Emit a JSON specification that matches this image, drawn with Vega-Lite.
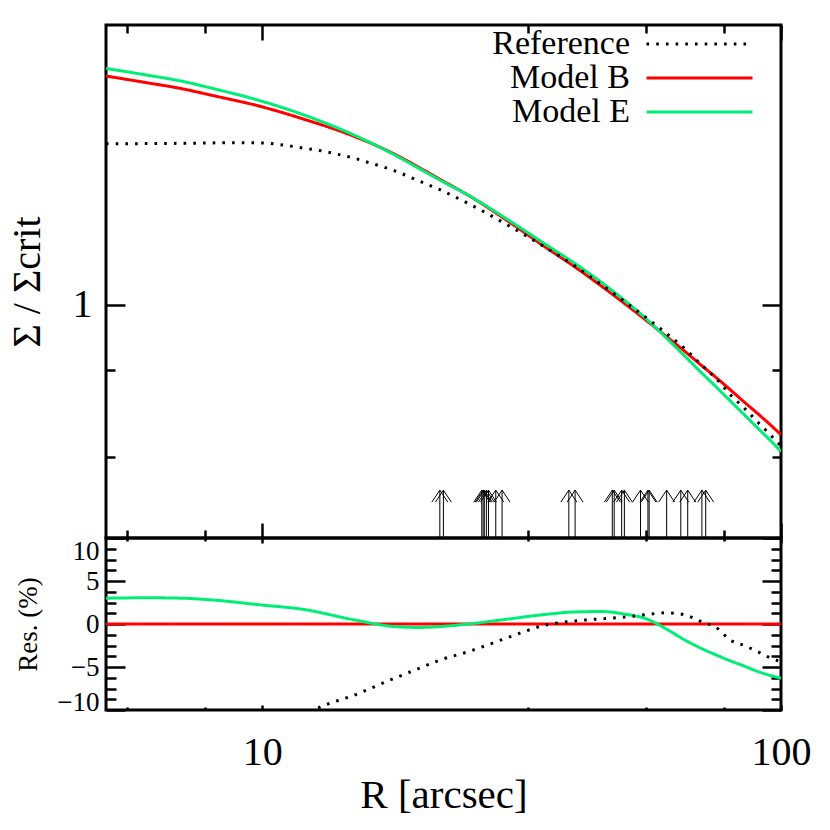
{
  "$schema": "https://vega.github.io/schema/vega-lite/v6.json",
  "background": "white",
  "padding": {"left": 5, "top": 22, "right": 5, "bottom": 5},
  "autosize": {"type": "pad"},
  "spacing": 0,
  "bounds": "flush",
  "datasets": {
    "curves": [
      {"R":5,"series":"Model B","sigma":2.455,"res":0},
      {"R":6,"series":"Model B","sigma":2.391,"res":0},
      {"R":7,"series":"Model B","sigma":2.336,"res":0},
      {"R":8,"series":"Model B","sigma":2.276,"res":0},
      {"R":10,"series":"Model B","sigma":2.175,"res":0},
      {"R":12,"series":"Model B","sigma":2.074,"res":0},
      {"R":15,"series":"Model B","sigma":1.939,"res":0},
      {"R":18,"series":"Model B","sigma":1.806,"res":0},
      {"R":20,"series":"Model B","sigma":1.717,"res":0},
      {"R":22,"series":"Model B","sigma":1.637,"res":0},
      {"R":25,"series":"Model B","sigma":1.536,"res":0},
      {"R":30,"series":"Model B","sigma":1.382,"res":0},
      {"R":35,"series":"Model B","sigma":1.257,"res":0},
      {"R":40,"series":"Model B","sigma":1.161,"res":0},
      {"R":45,"series":"Model B","sigma":1.077,"res":0},
      {"R":50,"series":"Model B","sigma":1.004,"res":0},
      {"R":55,"series":"Model B","sigma":0.940,"res":0},
      {"R":60,"series":"Model B","sigma":0.884,"res":0},
      {"R":65,"series":"Model B","sigma":0.835,"res":0},
      {"R":70,"series":"Model B","sigma":0.790,"res":0},
      {"R":75,"series":"Model B","sigma":0.751,"res":0},
      {"R":80,"series":"Model B","sigma":0.715,"res":0},
      {"R":85,"series":"Model B","sigma":0.682,"res":0},
      {"R":90,"series":"Model B","sigma":0.653,"res":0},
      {"R":95,"series":"Model B","sigma":0.626,"res":0},
      {"R":100,"series":"Model B","sigma":0.600,"res":0},

      {"R":5,"series":"Model E","sigma":2.529,"res":3.0},
      {"R":6,"series":"Model E","sigma":2.464,"res":3.05},
      {"R":7,"series":"Model E","sigma":2.406,"res":3.0},
      {"R":8,"series":"Model E","sigma":2.340,"res":2.8},
      {"R":10,"series":"Model E","sigma":2.223,"res":2.2},
      {"R":12,"series":"Model E","sigma":2.109,"res":1.7},
      {"R":15,"series":"Model E","sigma":1.949,"res":0.5},
      {"R":18,"series":"Model E","sigma":1.801,"res":-0.3},
      {"R":20,"series":"Model E","sigma":1.710,"res":-0.4},
      {"R":22,"series":"Model E","sigma":1.632,"res":-0.3},
      {"R":25,"series":"Model E","sigma":1.536,"res":0.0},
      {"R":30,"series":"Model E","sigma":1.390,"res":0.6},
      {"R":35,"series":"Model E","sigma":1.271,"res":1.1},
      {"R":40,"series":"Model E","sigma":1.177,"res":1.4},
      {"R":45,"series":"Model E","sigma":1.093,"res":1.45},
      {"R":50,"series":"Model E","sigma":1.016,"res":1.15},
      {"R":55,"series":"Model E","sigma":0.946,"res":0.6},
      {"R":60,"series":"Model E","sigma":0.879,"res":-0.55},
      {"R":65,"series":"Model E","sigma":0.820,"res":-1.8},
      {"R":70,"series":"Model E","sigma":0.768,"res":-2.8},
      {"R":75,"series":"Model E","sigma":0.724,"res":-3.6},
      {"R":80,"series":"Model E","sigma":0.684,"res":-4.3},
      {"R":85,"series":"Model E","sigma":0.649,"res":-4.9},
      {"R":90,"series":"Model E","sigma":0.617,"res":-5.5},
      {"R":95,"series":"Model E","sigma":0.589,"res":-5.95},
      {"R":100,"series":"Model E","sigma":0.562,"res":-6.3},

      {"R":5,"series":"Reference","sigma":1.882,"res":-23.3},
      {"R":6,"series":"Reference","sigma":1.883,"res":-21.2},
      {"R":7,"series":"Reference","sigma":1.885,"res":-19.3},
      {"R":8,"series":"Reference","sigma":1.888,"res":-17.0},
      {"R":9,"series":"Reference","sigma":1.890,"res":-14.9},
      {"R":10,"series":"Reference","sigma":1.887,"res":-13.2},
      {"R":11,"series":"Reference","sigma":1.872,"res":-11.8},
      {"R":12,"series":"Reference","sigma":1.850,"res":-10.8},
      {"R":13,"series":"Reference","sigma":1.830,"res":-9.6},
      {"R":14,"series":"Reference","sigma":1.805,"res":-8.9},
      {"R":15,"series":"Reference","sigma":1.779,"res":-8.3},
      {"R":16,"series":"Reference","sigma":1.749,"res":-7.6},
      {"R":18,"series":"Reference","sigma":1.692,"res":-6.3},
      {"R":20,"series":"Reference","sigma":1.628,"res":-5.2},
      {"R":22,"series":"Reference","sigma":1.571,"res":-4.2},
      {"R":25,"series":"Reference","sigma":1.487,"res":-3.2},
      {"R":30,"series":"Reference","sigma":1.361,"res":-1.5},
      {"R":35,"series":"Reference","sigma":1.255,"res":-0.15},
      {"R":40,"series":"Reference","sigma":1.165,"res":0.35},
      {"R":45,"series":"Reference","sigma":1.083,"res":0.6},
      {"R":50,"series":"Reference","sigma":1.012,"res":0.8},
      {"R":55,"series":"Reference","sigma":0.950,"res":1.1},
      {"R":60,"series":"Reference","sigma":0.895,"res":1.3},
      {"R":65,"series":"Reference","sigma":0.844,"res":1.1},
      {"R":70,"series":"Reference","sigma":0.792,"res":0.3},
      {"R":75,"series":"Reference","sigma":0.748,"res":-0.4},
      {"R":80,"series":"Reference","sigma":0.701,"res":-1.9},
      {"R":85,"series":"Reference","sigma":0.666,"res":-2.5},
      {"R":90,"series":"Reference","sigma":0.632,"res":-3.2},
      {"R":95,"series":"Reference","sigma":0.602,"res":-3.9},
      {"R":100,"series":"Reference","sigma":0.574,"res":-4.4}
    ],
    "arrows": [
      {"R":22.0},{"R":22.35},{"R":26.5},{"R":26.66},{"R":26.8},{"R":27.05},{"R":27.3},{"R":28.2},{"R":29.0},
      {"R":39.0},{"R":40.1},{"R":47.3},{"R":47.7},{"R":49.3},{"R":49.9},{"R":53.6},{"R":55.4},{"R":55.7},
      {"R":60.2},{"R":64.1},{"R":66.1},{"R":70.4},{"R":71.6}
    ]
  },
  "resolve": {"scale": {"color": "independent", "strokeDash": "independent"}},
  "vconcat": [
    {
      "width": 675,
      "height": 513,
      "data": {"name": "curves"},
      "layer": [
        {
          "mark": {"type": "line", "interpolate": "monotone", "clip": true, "strokeWidth": 3},
          "encoding": {
            "x": {"field": "R", "type": "quantitative",
                  "scale": {"type": "log", "domain": [5, 100], "nice": false},
                  "axis": {"orient": "bottom", "values": [10, 100], "tickSize": -15, "labels": false, "title": null}},
            "y": {"field": "sigma", "type": "quantitative",
                  "scale": {"type": "log", "domain": [0.4, 3], "nice": false},
                  "axis": {"orient": "left", "values": [1], "tickSize": -19, "labelPadding": 33, "labelFontSize": 40, "format": "d",
                           "title": "Σ / Σcrit", "titleFontSize": 40, "titlePadding": 25}},
            "color": {"field": "series", "type": "nominal",
                      "scale": {"domain": ["Reference", "Model B", "Model E"], "range": ["#000000", "#ff0000", "#00ee76"]},
                      "legend": {"orient": "none", "legendX": 576.5, "legendY": 2, "title": null, "symbolType": "M-6.8,0L6.8,0",
                                 "symbolSize": 243, "symbolStrokeWidth": 3, "labelFont": "Liberation Serif", "labelFontSize": 34,
                                 "labelColor": "black", "labelAlign": "right", "labelOffset": -86.5,
                                 "rowPadding": -7, "padding": 0, "labelLimit": 0}},
            "strokeDash": {"field": "series", "type": "nominal",
                           "scale": {"domain": ["Reference", "Model B", "Model E"], "range": [[2.6, 7.1], [1, 0], [1, 0]]},
                           "legend": {"orient": "none", "legendX": 576.5, "legendY": 2, "title": null, "symbolType": "M-6.8,0L6.8,0",
                                      "symbolSize": 243, "symbolStrokeWidth": 3, "labelFont": "Liberation Serif", "labelFontSize": 34,
                                      "labelColor": "black", "labelAlign": "right", "labelOffset": -86.5,
                                      "rowPadding": -7, "padding": 0, "labelLimit": 0}}
          }
        },
        {
          "mark": {"type": "point", "opacity": 0},
          "encoding": {
            "x": {"field": "R", "type": "quantitative",
                  "axis": {"orient": "bottom", "values": [5.5, 7.75, 32.5, 55, 77.5], "tickSize": -8, "labels": false, "title": null}},
            "y": {"field": "sigma", "type": "quantitative",
                  "axis": {"orient": "left", "values": [0.55, 0.775], "tickSize": -9, "labels": false, "title": null}}
          }
        },
        {
          "mark": {"type": "point", "opacity": 0},
          "encoding": {
            "x": {"field": "R", "type": "quantitative",
                  "axis": {"orient": "top", "values": [10, 100], "tickSize": -15, "labels": false, "title": null}},
            "y": {"field": "sigma", "type": "quantitative",
                  "axis": {"orient": "right", "values": [1], "tickSize": -19, "labels": false, "title": null}}
          }
        },
        {
          "mark": {"type": "point", "opacity": 0},
          "encoding": {
            "x": {"field": "R", "type": "quantitative",
                  "axis": {"orient": "top", "values": [5.5, 7.75, 32.5, 55, 77.5], "tickSize": -8, "labels": false, "title": null}},
            "y": {"field": "sigma", "type": "quantitative",
                  "axis": {"orient": "right", "values": [0.55, 0.775], "tickSize": -9, "labels": false, "title": null}}
          }
        },
        {
          "data": {"name": "arrows"},
          "mark": {"type": "rule", "color": "black", "strokeWidth": 1},
          "encoding": {
            "x": {"field": "R", "type": "quantitative", "axis": null},
            "y": {"datum": 0.4, "type": "quantitative", "axis": null},
            "y2": {"datum": 0.4827}
          }
        },
        {
          "data": {"name": "arrows"},
          "mark": {"type": "point", "shape": "M-1,1.5L0,0L1,1.5", "filled": false, "size": 256, "color": "black", "strokeWidth": 1, "opacity": 1},
          "encoding": {
            "x": {"field": "R", "type": "quantitative", "axis": null},
            "y": {"datum": 0.4827, "type": "quantitative", "axis": null}
          }
        }
      ],
      "resolve": {"axis": {"x": "independent", "y": "independent"}}
    },
    {
      "width": 675,
      "height": 172,
      "data": {"name": "curves"},
      "layer": [
        {
          "mark": {"type": "line", "interpolate": "monotone", "clip": true, "strokeWidth": 3},
          "encoding": {
            "x": {"field": "R", "type": "quantitative",
                  "scale": {"type": "log", "domain": [5, 100], "nice": false},
                  "axis": {"orient": "bottom", "values": [10, 100], "tickSize": -5, "labelPadding": 27, "labelFontSize": 40, "format": "d",
                           "title": "R [arcsec]", "titleFontSize": 41, "titlePadding": 3}},
            "y": {"field": "res", "type": "quantitative",
                  "scale": {"type": "linear", "domain": [-10, 10], "nice": false, "zero": false},
                  "axis": {"orient": "left", "values": [-10, -5, 0, 5, 10], "tickSize": -19, "labelPadding": 26, "labelFontSize": 27,
                           "labelBaseline": {"condition": [{"test": "datum.value === 10", "value": "top"}, {"test": "datum.value === -10", "value": "alphabetic"}], "value": "middle"},
                           "title": "Res. (%)", "titleFontSize": 27, "titlePadding": 14}},
            "color": {"field": "series", "type": "nominal",
                      "scale": {"domain": ["Reference", "Model B", "Model E"], "range": ["#000000", "#ff0000", "#00ee76"]},
                      "legend": null},
            "strokeDash": {"field": "series", "type": "nominal",
                           "scale": {"domain": ["Reference", "Model B", "Model E"], "range": [[2.6, 7.1], [1, 0], [1, 0]]},
                           "legend": null}
          }
        },
        {
          "mark": {"type": "point", "opacity": 0},
          "encoding": {
            "x": {"field": "R", "type": "quantitative",
                  "axis": {"orient": "bottom", "values": [5.5, 7.75, 32.5, 55, 77.5], "tickSize": -3, "labels": false, "title": null}},
            "y": {"field": "res", "type": "quantitative",
                  "axis": {"orient": "left", "values": [-8.75, -7.5, -6.25, -3.75, -2.5, -1.25, 1.25, 2.5, 3.75, 6.25, 7.5, 8.75], "tickSize": -10, "labels": false, "title": null}}
          }
        },
        {
          "mark": {"type": "point", "opacity": 0},
          "encoding": {
            "x": {"field": "R", "type": "quantitative",
                  "axis": {"orient": "top", "values": [10, 100], "tickSize": -5, "labels": false, "title": null}},
            "y": {"field": "res", "type": "quantitative",
                  "axis": {"orient": "right", "values": [-10, -5, 0, 5, 10], "tickSize": -19, "labels": false, "title": null}}
          }
        },
        {
          "mark": {"type": "point", "opacity": 0},
          "encoding": {
            "x": {"field": "R", "type": "quantitative",
                  "axis": {"orient": "top", "values": [5.5, 7.75, 32.5, 55, 77.5], "tickSize": -3, "labels": false, "title": null}},
            "y": {"field": "res", "type": "quantitative",
                  "axis": {"orient": "right", "values": [-8.75, -7.5, -6.25, -3.75, -2.5, -1.25, 1.25, 2.5, 3.75, 6.25, 7.5, 8.75], "tickSize": -10, "labels": false, "title": null}}
          }
        }
      ],
      "resolve": {"axis": {"x": "independent", "y": "independent"}}
    }
  ],
  "config": {
    "view": {"stroke": "black", "strokeWidth": 3},
    "axis": {"domain": false, "grid": false, "tickColor": "black", "tickWidth": 2.5,
             "labelFont": "Liberation Serif", "titleFont": "Liberation Serif", "labelColor": "black", "titleColor": "black",
             "titleFontWeight": "normal", "labelOverlap": false, "labelFlush": false, "labelBound": false, "zindex": 1}
  }
}
